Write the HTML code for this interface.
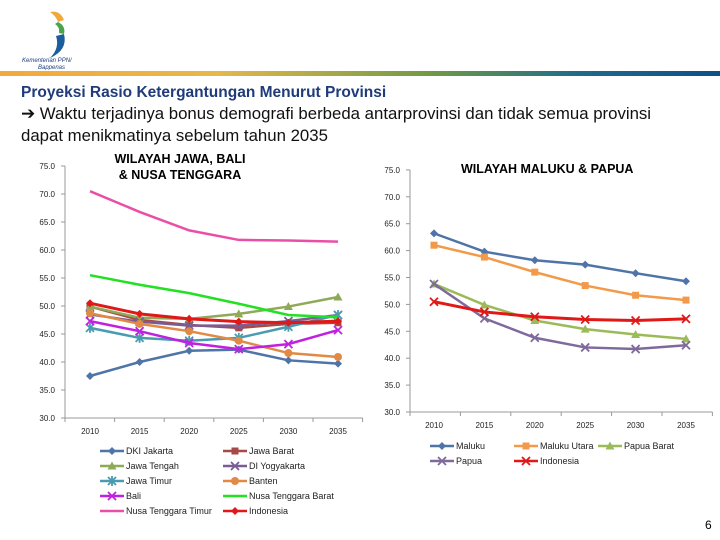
<!DOCTYPE html>
<html><head><meta charset="utf-8"><style>
body{margin:0;width:720px;height:540px;background:#fff;overflow:hidden;font-family:"Liberation Sans",sans-serif;position:relative}
.t{position:absolute;white-space:nowrap}
</style></head><body>
<div class="t" style="left:20px;top:8px;width:75px;height:62px">
<svg width="75" height="62"><path d="M30 4 q10 -2 14 8 l-6 2 q-2 -6 -8 -10z" fill="#f2a93b"/><path d="M38 14 q8 4 6 12 l-5 -1 q1 -6 -4 -9z" fill="#4aa54a"/><path d="M44 26 q4 16 -14 24 q10 -10 6 -22z" fill="#1b5e9e"/>
<text x="2" y="54" font-size="6" font-style="italic" fill="#1b3f7a">Kementerian PPN/</text><text x="18" y="61" font-size="6" font-style="italic" fill="#1b3f7a">Bappenas</text></svg></div>
<div style="position:absolute;left:0;top:71px;width:720px;height:5px;background:linear-gradient(90deg,#f3a93c,#e6b84a 30%,#6f9a45 60%,#1f6c8a 80%,#0e5088)"></div>
<div class="t" style="left:21px;top:84px;font-size:15.5px;font-weight:bold;color:#1f3b7a">Proyeksi Rasio Ketergantungan Menurut Provinsi</div>
<div class="t" style="left:21px;top:103px;font-size:16.8px;line-height:22px;color:#111">➔ Waktu terjadinya bonus demografi berbeda antarprovinsi dan tidak semua provinsi<br>dapat menikmatinya sebelum tahun 2035</div>
<div class="t" style="left:705px;top:518px;font-size:12px">6</div>
<svg id="c" width="720" height="540" style="position:absolute;left:0;top:0"></svg>
<script>
const years=[2010,2015,2020,2025,2030,2035];
const yTicks=[30,35,40,45,50,55,60,65,70,75];
const leftNames=["DKI Jakarta","Jawa Barat","Jawa Tengah","DI Yogyakarta","Jawa Timur","Banten","Bali","Nusa Tenggara Barat","Nusa Tenggara Timur","Indonesia"];
const dki=[37.5,40,42,42.2,40.3,39.7];
const jabar=[49.9,47.5,46.6,46.1,46.8,47];
const jateng=[49.9,47.9,47.7,48.6,49.9,51.6];
const diy=[48.5,47.2,46.5,46.5,47.3,48.4];
const jatim=[46.1,44.3,43.8,44.3,46.3,48.4];
const banten=[48.7,46.8,45.5,43.8,41.6,40.9];
const bali=[47.3,45.5,43.4,42.3,43.2,45.7];
const ntb=[55.5,53.8,52.3,50.4,48.4,48];
const ntt=[70.5,66.8,63.5,61.8,61.7,61.5];
const indo=[50.5,48.6,47.7,47.2,47,47.3];
const maluku=[63.2,59.8,58.2,57.4,55.8,54.3];
const malut=[61,58.8,56,53.5,51.7,50.8];
const pabar=[53.8,49.9,47,45.4,44.4,43.6];
const papua=[53.8,47.4,43.8,42,41.7,42.4];
const svg=document.getElementById('c');const NS="http://www.w3.org/2000/svg";
function mk(t,a,p){const e=document.createElementNS(NS,t);for(const k in a)e.setAttribute(k,a[k]);(p||svg).appendChild(e);return e;}
function txt(x,y,s,sz,anc){const e=mk('text',{x:x,y:y,'font-size':sz||9,'text-anchor':anc||'start',fill:'#222'});e.textContent=s;return e;}
function marker(g,type,x,y,c){
 if(type==='d')mk('path',{d:`M${x} ${y-4}L${x+4} ${y}L${x} ${y+4}L${x-4} ${y}Z`,fill:c},g);
 else if(type==='s')mk('rect',{x:x-3.5,y:y-3.5,width:7,height:7,fill:c},g);
 else if(type==='t')mk('path',{d:`M${x} ${y-4.5}L${x+4.5} ${y+3.5}L${x-4.5} ${y+3.5}Z`,fill:c},g);
 else if(type==='o')mk('circle',{cx:x,cy:y,r:4,fill:c},g);
 else if(type==='x'||type==='a'){mk('path',{d:`M${x-4} ${y-4}L${x+4} ${y+4}M${x+4} ${y-4}L${x-4} ${y+4}`+(type==='a'?`M${x} ${y-5}L${x} ${y+5}`:''),stroke:c,'stroke-width':1.8},g);}
}
function chart(cfg){
 const sx=i=>cfg.x0+i*cfg.dx, sy=v=>cfg.yb-(v-30)*cfg.ky;
 const ax=mk('g',{});
 
 
 mk('line',{x1:cfg.ax,y1:sy(75),x2:cfg.ax,y2:cfg.yb,stroke:'#999'},ax);
 mk('line',{x1:cfg.ax,y1:cfg.yb,x2:cfg.ax+6*cfg.dx,y2:cfg.yb,stroke:'#999'},ax);
 yTicks.forEach(v=>{mk('line',{x1:cfg.ax-4,y1:sy(v),x2:cfg.ax,y2:sy(v),stroke:'#999'},ax);const t=txt(cfg.ax-10,sy(v)+3,v.toFixed(1),8,'end');});
 years.forEach((y,i)=>{mk('line',{x1:cfg.ax+i*cfg.dx,y1:cfg.yb,x2:cfg.ax+i*cfg.dx,y2:cfg.yb+4,stroke:'#999'},ax);const t=txt(sx(i),cfg.yb+16,y,8,'middle');});
 mk('line',{x1:cfg.ax+6*cfg.dx,y1:cfg.yb,x2:cfg.ax+6*cfg.dx,y2:cfg.yb+4,stroke:'#999'},ax);
 cfg.series.forEach(s=>{
  const g=mk('g',{});
  
  
  mk('polyline',{points:s.v.map((v,i)=>sx(i)+','+sy(v)).join(' '),fill:'none',stroke:s.c,'stroke-width':s.w||2.5},g);
  if(s.m)s.v.forEach((v,i)=>marker(g,s.m,sx(i),sy(v),s.c));
 });
 cfg.series.forEach((s,k)=>{
  const lx=cfg.lx+(k%cfg.cols)*cfg.lw, ly=cfg.ly+Math.floor(k/cfg.cols)*15;
  const g=mk('g',{});
  
  
  mk('line',{x1:lx,y1:ly,x2:lx+24,y2:ly,stroke:s.c,'stroke-width':2.5},g);
  if(s.m)marker(g,s.m,lx+12,ly,s.c);
  const t=txt(lx+26,ly+3,s.n,9);g.appendChild(t);
 });
}
chart({id:'left',ax:65,x0:90,dx:49.6,yb:418,ky:5.6,lx:100,ly:451,cols:2,lw:123,series:[
 {n:"DKI Jakarta",v:dki,c:"#4f74a8",m:'d'},{n:"Jawa Barat",v:jabar,c:"#a64a47",m:'s'},
 {n:"Jawa Tengah",v:jateng,c:"#8faa57",m:'t'},{n:"DI Yogyakarta",v:diy,c:"#7a5c94",m:'x'},
 {n:"Jawa Timur",v:jatim,c:"#4a9bb0",m:'a'},{n:"Banten",v:banten,c:"#e08a45",m:'o'},
 {n:"Bali",v:bali,c:"#c020e0",m:'x'},{n:"Nusa Tenggara Barat",v:ntb,c:"#22e022",m:null},
 {n:"Nusa Tenggara Timur",v:ntt,c:"#ea4fa8",m:null},{n:"Indonesia",v:indo,c:"#e01818",m:'d',w:3}]});
chart({id:'right',ax:410,x0:434,dx:50.4,yb:412,ky:5.38,lx:430,ly:446,cols:3,lw:84,series:[
 {n:"Maluku",v:maluku,c:"#4f74a8",m:'d'},{n:"Maluku Utara",v:malut,c:"#f39a4a",m:'s'},
 {n:"Papua Barat",v:pabar,c:"#9bbb59",m:'t'},{n:"Papua",v:papua,c:"#7f6a9c",m:'x'},
 {n:"Indonesia",v:indo,c:"#e01818",m:'x',w:3}]});
</script>
<div class="t" style="left:110px;top:151px;width:140px;text-align:center;font-size:12.5px;font-weight:bold;line-height:16px;white-space:normal">WILAYAH JAWA, BALI &amp; NUSA TENGGARA</div>
<div class="t" style="left:461px;top:162px;font-size:12.5px;font-weight:bold">WILAYAH MALUKU &amp; PAPUA</div>
</body></html>
